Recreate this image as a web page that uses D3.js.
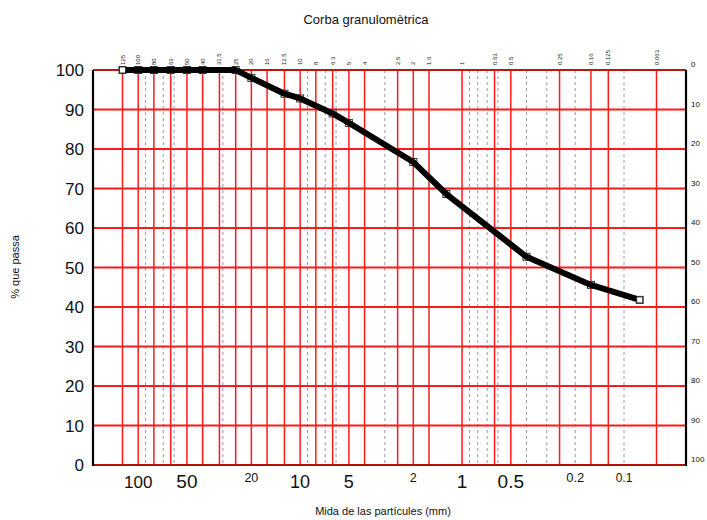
<!DOCTYPE html>
<html><head><meta charset="utf-8">
<script src="https://cdn.jsdelivr.net/npm/d3@7"></script>
<style>body{margin:0;background:#fff}svg{display:block;font-family:"Liberation Sans",Arial,sans-serif}</style>
</head><body><svg id="c" width="707" height="520"></svg>
<script>
// sieve sizes with red grid lines (mm)
const sieves = [125,100,80,63,50,40,31.5,25,20,16,12.5,10,8,6.3,5,4,2.5,2,1.6,1,0.63,0.5,0.25,0.16,0.125,0.063];
const sieveLabels = ["125","100","80","63","50","40","31.5","25","20","16","12.5","10","8","6.3","5","4","2.5","2","1.6","1","0.63","0.5","0.25","0.16","0.125","0.063"];
// minor log grid (dashed)
const minorGrid = [90,70,60,30,9,7,6,3,0.9,0.8,0.7,0.6,0.4,0.3,0.2,0.1];
// bottom labels
const bottomVals = [100,50,20,10,5,2,1,0.5,0.2,0.1];
const bottomText = ["100","50","20","10","5","2","1","0.5","0.2","0.1"];
const bottomSize = [17,19,12.5,18,18,12.5,19,19,13,12];
// y ticks
const leftTicks = [0,10,20,30,40,50,60,70,80,90,100];
// data: particle size (mm) and % passing
const sizes = [125,100,80,63,50,40,25,20,12.5,10,6.3,5,2,1.25,0.4,0.16,0.08];
const passing = [100,100,100,100,100,100,100,98,94,92.8,89,86.6,76.7,68.6,52.7,45.6,41.8];

const svg = d3.select("#c");
const L=93,R=686,T=70,B=465;
const x = d3.scaleLog().domain([125,0.063]).range([122.5,656.5]);
const y = d3.scaleLinear().domain([0,100]).range([B,T]);
const yr = d3.scaleLinear().domain([100,0]).range([B,T]);

// dashed minor grid
svg.append("g").selectAll("line").data(minorGrid).join("line")
  .attr("x1",d=>x(d)).attr("x2",d=>x(d)).attr("y1",T).attr("y2",B)
  .attr("stroke","#9a9a9a").attr("stroke-width",1).attr("stroke-dasharray","3,3");
// red vertical grid
svg.append("g").selectAll("line").data(sieves).join("line")
  .attr("x1",d=>x(d)).attr("x2",d=>x(d)).attr("y1",T).attr("y2",B)
  .attr("stroke","#ff1a1a").attr("stroke-width",1.5);
// red horizontal grid
svg.append("g").selectAll("line").data(leftTicks).join("line")
  .attr("x1",L).attr("x2",R).attr("y1",d=>y(d)).attr("y2",d=>y(d))
  .attr("stroke","#ff1a1a").attr("stroke-width",1.8);
// bottom/top border lines
svg.append("line").attr("x1",L).attr("x2",R).attr("y1",B).attr("y2",B).attr("stroke","#b01010").attr("stroke-width",2);
svg.append("line").attr("x1",L).attr("x2",R).attr("y1",T).attr("y2",T).attr("stroke","#c01515").attr("stroke-width",2);
// left and right axis lines
svg.append("line").attr("x1",L).attr("x2",L).attr("y1",T).attr("y2",B+1).attr("stroke","#000").attr("stroke-width",2.2);
svg.append("line").attr("x1",R).attr("x2",R).attr("y1",T).attr("y2",B+1).attr("stroke","#000").attr("stroke-width",2.2);

// left axis labels
svg.append("g").selectAll("text").data(leftTicks).join("text")
  .attr("x",L-9).attr("y",d=>y(d)+6).attr("text-anchor","end")
  .attr("font-size",17).attr("fill","#111").text(d=>d);
// right axis labels
svg.append("g").selectAll("text").data(leftTicks).join("text")
  .attr("x",R+5).attr("y",d=>yr(d)-3).attr("text-anchor","start")
  .attr("font-size",8).attr("fill","#111").text(d=>d);
// top sieve labels (rotated)
svg.append("g").selectAll("text").data(sieves).join("text")
  .attr("transform",d=>`translate(${x(d)+2},65) rotate(-90)`)
  .attr("text-anchor","start").attr("font-size",6).attr("fill","#222")
  .text((d,i)=>sieveLabels[i]);
// bottom labels
svg.append("g").selectAll("text").data(bottomVals).join("text")
  .attr("x",d=>x(d)).attr("y",(d,i)=>bottomSize[i]<15?482:488)
  .attr("text-anchor","middle").attr("font-size",(d,i)=>bottomSize[i]).attr("fill","#111")
  .text((d,i)=>bottomText[i]);

// data markers + line
const pts = sizes.map((s,i)=>[s,passing[i]]);
svg.append("g").selectAll("rect").data(pts).join("rect")
  .attr("x",d=>x(d[0])-3.5).attr("y",d=>y(d[1])-3.5).attr("width",7).attr("height",7)
  .attr("fill","#fff").attr("stroke","#333").attr("stroke-width",1);
svg.append("path").datum(pts)
  .attr("d",d3.line().x(d=>x(d[0])).y(d=>y(d[1])))
  .attr("fill","none").attr("stroke","#000").attr("stroke-width",6).attr("stroke-linejoin","round");
// end markers visible
svg.append("g").selectAll("rect").data([pts[0],pts[pts.length-1]]).join("rect")
  .attr("x",d=>x(d[0])-3).attr("y",d=>y(d[1])-3).attr("width",6).attr("height",6)
  .attr("fill","#fff").attr("stroke","#333").attr("stroke-width",1);

// titles
svg.append("text").attr("x",366).attr("y",24).attr("text-anchor","middle").attr("font-size",13).attr("fill","#111").text("Corba  granulomètrica");
svg.append("text").attr("x",383).attr("y",515).attr("text-anchor","middle").attr("font-size",11).attr("fill","#111").text("Mida de las partícules (mm)");
svg.append("text").attr("transform","translate(19,267) rotate(-90)").attr("text-anchor","middle").attr("font-size",11).attr("fill","#111").text("% que passa");
</script></body></html>
